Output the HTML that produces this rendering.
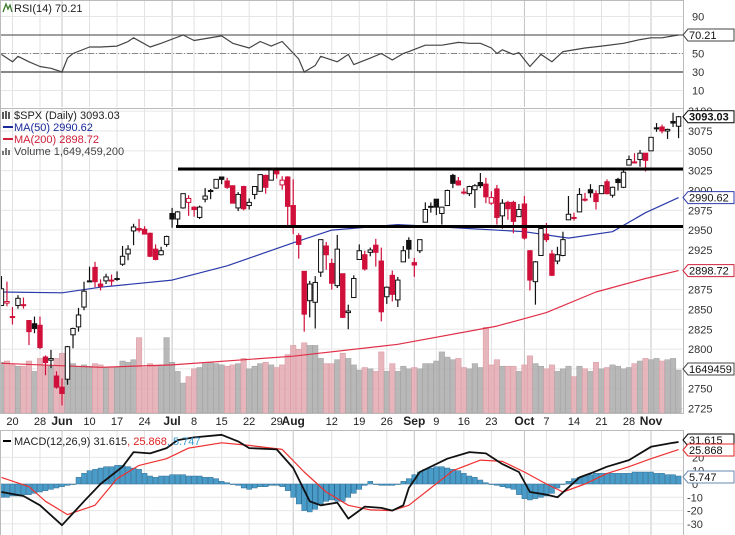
<!DOCTYPE html>
<html><head><meta charset="utf-8">
<style>
body{margin:0;background:#fff;}
svg{display:block;font-family:"Liberation Sans",Arial,sans-serif;}
</style></head>
<body>
<svg id="chart" width="735" height="535" viewBox="0 0 735 535" xmlns="http://www.w3.org/2000/svg">
<rect x="0" y="0" width="735" height="535" fill="#fff"/>
<g id="grid"></g>
<g id="vol"></g>
<g id="lines"></g>
<g id="candles"></g>
<g id="macd"></g>
<g id="rsi"></g>
<g id="axis"></g>
<g id="support">
  <line x1="178" y1="169" x2="683" y2="169" stroke="#000" stroke-width="3"/>
  <line x1="176" y1="226.5" x2="683" y2="226.5" stroke="#000" stroke-width="3"/>
</g>
<g font-size="11">
  <text x="14" y="12" fill="#222">RSI(14) 70.21</text>
  <path d="M3 12 L6 4 L8 9 L10 5 L12 12" stroke="#3a7a2a" fill="none" stroke-width="1.3"/>
  <text x="14" y="119" fill="#222">$SPX (Daily) 3093.03</text>
  <path d="M3 112 v7 M6 111 v8 M9 112 v7" stroke="#222" stroke-width="1.5"/>
  <line x1="3" y1="127" x2="13" y2="127" stroke="#1a2a9a" stroke-width="2"/>
  <text x="14" y="131" fill="#1a2a9a">MA(50) 2990.62</text>
  <line x1="3" y1="139" x2="13" y2="139" stroke="#d0203a" stroke-width="2"/>
  <text x="14" y="143" fill="#d0203a">MA(200) 2898.72</text>
  <path d="M3 155 v-4 M6 155 v-7 M9 155 v-5" stroke="#777" stroke-width="2"/>
  <text x="14" y="155" fill="#444">Volume 1,649,459,200</text>
  <line x1="3" y1="441" x2="11" y2="441" stroke="#000" stroke-width="2"/>
  <text x="14" y="445" fill="#222">MACD(12,26,9) 31.615<tspan fill="#e02020">, 25.868</tspan><tspan fill="#3a9ad0">, 5.747</tspan></text>
</g>
</svg>
<script>
const barIdx0 = -11;
const opens = [2855,2858,2841,2855,2856,2836,2832,2830,2790,2786,2766,2752,2762,2818,2828,2853,2885,2903,2882,2886,2886,2889,2907,2920,2949,2952,2951,2946,2926,2919,2932,2971,2964,2978,2985,2979,2966,2989,2999,3003,3017,3012,3006,2978,3005,2981,2995,2999,3019,3013,3025,3007,3017,2981,2943,2898,2861,2859,2897,2930,2908,2880,2895,2846,2865,2913,2919,2922,2931,2911,2866,2893,2862,2910,2937,2909,2924,2960,2980,2989,2971,2981,3019,3012,2997,2996,3001,3010,3008,2984,3002,2968,2985,2985,2967,2983,2924,2885,2918,2945,2920,2911,2918,2963,2966,2973,2989,3001,2996,2996,3011,2994,3014,3004,3032,3036,3039,3047,3050,3079,3080,3075,3087,3081];
const highs = [2892,2885,2853,2868,2865,2836,2841,2841,2792,2799,2772,2763,2804,2827,2852,2885,2904,2910,2888,2895,2894,2898,2930,2931,2958,2964,2955,2947,2932,2929,2943,2978,2974,2995,2994,2980,2981,3003,3002,3014,3017,3016,3006,2998,3006,2990,3005,3020,3020,3028,3026,3018,3018,3014,2946,2898,2886,2892,2938,2935,2914,2944,2895,2856,2893,2932,2924,2928,2939,2928,2879,2899,2891,2930,2941,2915,2938,2985,2985,2989,2979,3001,3021,3017,3003,3006,3008,3022,3016,2999,3007,2989,2987,2987,2983,2993,2925,2911,2953,2959,2925,2929,2948,2993,2972,3003,2997,3008,3000,3007,3014,3005,3016,3028,3044,3047,3051,3047,3067,3085,3083,3078,3098,3094];
const lows = [2855,2854,2831,2851,2851,2805,2820,2800,2767,2776,2750,2729,2755,2801,2822,2849,2885,2878,2874,2882,2880,2886,2905,2912,2931,2947,2945,2916,2912,2918,2929,2953,2955,2977,2968,2967,2964,2985,2989,3002,3008,3002,2984,2974,2975,2976,2989,2999,2996,3013,3015,3001,2954,2945,2914,2822,2840,2826,2891,2900,2875,2877,2839,2825,2865,2913,2899,2917,2904,2835,2857,2860,2853,2910,2914,2891,2921,2960,2972,2969,2957,2981,3003,3006,2995,2993,2978,3003,2984,2982,2957,2952,2963,2946,2967,2938,2874,2856,2918,2935,2892,2907,2917,2963,2962,2973,2986,2991,2976,2996,2995,2991,3000,3003,3032,3034,3030,3024,3050,3074,3072,3065,3080,3066];
const closes = [2876,2860,2840,2864,2856,2822,2826,2802,2783,2788,2752,2744,2803,2826,2843,2873,2886,2885,2879,2891,2887,2889,2917,2926,2954,2950,2945,2917,2913,2924,2942,2964,2973,2996,2990,2976,2979,2993,3000,3014,3014,3004,2984,2995,2977,2985,3005,3020,3004,3026,3021,3013,2980,2954,2932,2844,2882,2884,2938,2919,2883,2926,2840,2848,2889,2924,2901,2925,2922,2847,2878,2869,2887,2924,2926,2906,2938,2976,2979,2979,2979,3000,3009,3007,2998,3005,3006,3006,2992,2991,2966,2984,2977,2961,2976,2940,2887,2910,2952,2938,2893,2919,2938,2970,2966,2995,2989,2997,2986,3006,2996,3004,3010,3023,3039,3036,3047,3038,3067,3078,3075,3077,3085,3093];
const volumesB = [1.95,2.0,1.85,1.8,1.8,2.0,1.6,2.1,1.85,1.8,2.1,
2.3,2.0,1.9,1.8,1.85,1.8,1.9,1.85,1.75,1.75,
1.75,2.0,1.95,2.05,2.9,1.75,1.9,1.8,1.85,2.9,
1.95,1.6,1.15,1.4,1.7,1.75,1.9,1.95,1.9,1.85,
1.8,1.85,1.9,2.1,1.7,1.8,1.9,1.95,1.85,1.75,
1.85,2.25,2.6,2.45,2.7,2.6,2.6,2.1,1.9,1.9,
2.05,2.3,2.1,1.85,1.65,1.75,1.7,1.6,2.35,1.6,
1.9,1.6,1.8,1.7,1.75,1.7,1.9,1.9,2.0,2.35,
2.15,2.05,2.1,1.75,1.7,1.9,1.75,3.3,1.85,2.05,
1.8,1.8,1.8,1.6,1.85,2.2,1.9,1.8,1.7,1.85,
1.6,1.7,1.8,1.4,1.8,1.7,1.6,1.95,1.7,1.75,
1.85,1.8,1.7,1.75,1.9,2.0,2.1,2.05,2.1,2.0,
2.05,2.1,1.65];
const ma50Idx = [-11,0,7,20,30,42,49,61,69,84,92,100,106,112];
const ma50Val = [2872,2871,2878,2887,2905,2934,2950,2957,2954,2948,2940,2948,2972,2991];
const ma200Idx = [-11,7,20,42,61,79,88,97,106,112];
const ma200Val = [2782,2777,2780,2791,2806,2829,2846,2872,2889,2899];
const rsiIdx = [-11,-9,-8,-6,-4,-2,0,1,2,5,7,10,12,13,16,18,22,24,29,31,34,36,38,40,43,44,46,47,50,52,53,56,58,60,62,63,66,69,72,74,76,78,79,80,82,83,85,87,89,91,95,98,102,105,107,109,111,112];
const rsiVal = [49,41,47,41,36,34,30,45,50,57,57,58,63,67,57,61,70,64,69,61,56,63,58,63,44,30,37,47,41,49,38,45,50,43,50,52,59,59,62,61,61,56,50,54,49,51,36,49,41,52,56,58,61,65,67,67,69,70];
const macdIdx = [-11,-7,-4,0,4,7,11,13,16,19,21,24,29,32,34,39,42,45,47,50,52,55,58,60,62,63,65,70,74,77,80,83,85,88,90,94,96,99,103,107,111,112];
const macdVal = [-6,-9,-16,-31,-13,0,13,24,23,27,33,35,37,32,27,26,12,-13,-16,-14,-26,-17,-18,-20,-16,-3,9,19,24,23,15,9,-6,-8,-10,5,8,13,18,28,31,31.6];
const signalIdx = [-11,-6,-3,1,6,10,14,19,23,29,34,40,44,48,52,56,60,63,67,71,76,80,84,88,91,95,99,103,107,112];
const signalVal = [5,-2,-13,-23,-16,4,14,19,27,31,29,26,9,-6,-16,-19.5,-20,-16,-3,10,18,17,9,0,-6,0,8,13,19,25.9];
const histVal = [-10,-10,-9,-9,-8,-8,-7,-6,-5,-4,-3,
-2,-1,0,5,8,10,11,12,13,13,
14,14,13,12,11,8,6,5,6,6,
7,7,7,6,6,6,5,5,4,2,1,0,
-1,-3,-4,-3,-2,-2,-1,-1,-2,-5,
-10,-15,-20,-21,-19,-15,-13,-12,-13,-13,
-10,-7,-4,-1,2,0,-1,-1,-1,0,
2,4,7,9,11,12,13,13,12,11,
10,8,6,5,3,1,0,-1,-2,-3,
-4,-8,-11,-12,-11,-10,-9,-7,-3,0,
2,4,5,6,7,8,8,8,8,8,
8,8,9,9,9,9,8,8,7,7,6];
const dateLabels = ["20","28","Jun","10","17","24","Jul","8","15","22","29","Aug","12","19","26","Sep","9","16","23","Oct","7","14","21","28","Nov"];
const dateIdx = [-9,-4,0,5,10,15,20,24,29,34,39,42,49,54,59,64,68,73,78,84,88,93,98,103,107];
const priceTicks = [3100,3075,3050,3025,3000,2975,2950,2925,2900,2875,2850,2825,2800,2775,2750,2725];
const rsiTicks = [90,70,50,30,10];
const macdTicks = [20,10,0,-10,-20,-30];

const NS="http://www.w3.org/2000/svg";
const xOf = i => 62 + i*5.505;
const yP = p => 131 + (3075-p)*0.793;
const yR = v => 53.5 - (v-50)*0.925;
const yM = v => 484 - v*1.33;
const yV = b => 413 - b*26;
function mk(tag, parent, attrs){const e=document.createElementNS(NS,tag);for(const k in attrs)e.setAttribute(k,attrs[k]);parent.appendChild(e);return e;}
const G=id=>document.getElementById(id);
const grid=G('grid'), vol=G('vol'), lines=G('lines'), cand=G('candles'), macd=G('macd'), rsi=G('rsi'), axis=G('axis');

[[0,107],[108,413],[430,535]].forEach(([t,b])=>{
  dateIdx.forEach((i,k)=>{
    const l=mk('line',grid,{x1:xOf(i),x2:xOf(i),y1:t,y2:b,stroke:/[A-Z]/.test(dateLabels[k])?'#c4c4c4':'#e2e2e2','stroke-width':1});
    
    
  });
});
priceTicks.forEach(p=>{const l=mk('line',grid,{x1:0,x2:683,y1:yP(p),y2:yP(p),stroke:'#e6e6e6'});

});
rsiTicks.forEach(v=>{const l=mk('line',grid,{x1:0,x2:683,y1:yR(v),y2:yR(v),stroke:'#e6e6e6'});

});
macdTicks.forEach(v=>{const l=mk('line',grid,{x1:0,x2:683,y1:yM(v),y2:yM(v),stroke:'#e6e6e6'});

});
[[0,0,683,108],[0,108,683,305],[0,430,683,105]].forEach(([x,y,w,h])=>{const r=mk('rect',axis,{x:x+0.5,y:y+0.5,width:w,height:h,fill:'none',stroke:'#bbb'});

});

volumesB.forEach((b,k)=>{
  const i=barIdx0+k; const down = k>0 && closes[k]<closes[k-1];
  const r=mk('rect',vol,{x:xOf(i)-2.75,y:yV(b),width:5.5,height:413-yV(b),fill:down?'#e3a8b0':'#ababab','fill-opacity':0.85,stroke:down?'#d99aa3':'#a0a0a0','stroke-width':0.5});
  
  
});

function poly(parent, idx, vals, yf, color, w, name){
  const pts=idx.map((i,k)=>xOf(i).toFixed(1)+','+yf(vals[k]).toFixed(1)).join(' ');
  const p=mk('polyline',parent,{points:pts,fill:'none',stroke:color,'stroke-width':w,'stroke-linejoin':'round'});
  
  
}
poly(lines,ma200Idx,ma200Val,yP,'#e03048',1.2,'ma200-line');
poly(lines,ma50Idx,ma50Val,yP,'#2a3aaa',1.2,'ma50-line');

closes.forEach((c,k)=>{
  const i=barIdx0+k, x=xOf(i), o=opens[k];
  const down = k>0 && c<closes[k-1];
  const col = down?'#d0103a':'#111';
  const w=mk('line',cand,{x1:x,x2:x,y1:yP(highs[k]),y2:yP(lows[k]),stroke:col,'stroke-width':1.2});
  
  
  const top=yP(Math.max(o,c)), bot=yP(Math.min(o,c));
  const r=mk('rect',cand,{x:x-2.2,y:top,width:4.4,height:Math.max(1,bot-top),fill:c>=o?'#fff':col,stroke:col,'stroke-width':1});
  
  
});

[[70,'#666',1.3,''],[30,'#888',2,''],[50,'#888',1,'6,2,1,2']].forEach(([v,c,w,d])=>{
  const l=mk('line',rsi,{x1:0,x2:683,y1:yR(v),y2:yR(v),stroke:c,'stroke-width':w,'stroke-dasharray':d});
  
  
});
poly(rsi,rsiIdx,rsiVal,yR,'#444',1.2,'rsi-line');

histVal.forEach((v,k)=>{
  const i=barIdx0+k, y0=yM(0), y1=yM(v);
  const r=mk('rect',macd,{x:xOf(i)-2.5,y:Math.min(y0,y1),width:5,height:Math.max(0.5,Math.abs(y1-y0)),fill:'#4a9cc8',stroke:'#2a6a94','stroke-width':0.5});
  
  
});
poly(macd,signalIdx,signalVal,yM,'#f03030',1.2,'macd-signal-line');
poly(macd,macdIdx,macdVal,yM,'#111',1.8,'macd-line');

function txt(parent,x,y,s,attrs,name){const t=mk('text',parent,Object.assign({x:x,y:y,'font-size':11,fill:'#333'},attrs||{}));t.textContent=s;

return t;}
dateLabels.forEach((s,k)=>{const bold=/[A-Z]/.test(s);txt(axis,xOf(dateIdx[k]),425,s,{'text-anchor':'middle','font-weight':bold?'bold':'normal','font-size':bold?12:11,fill:'#222'},'date-label');});
priceTicks.forEach(p=>txt(axis,688,yP(p)+4,String(p),{},'price-tick-label'));
rsiTicks.forEach(v=>{if(v!==70)txt(axis,692,yR(v)+4,String(v),{},'rsi-tick-label');});
macdTicks.forEach(v=>txt(axis,v<0?687:692,yM(v)+4,String(v),{},'macd-tick-label'));
function tag(y,s,color,name){
  const g=mk('g',axis,{});
  
  
  mk('path',g,{d:`M683 ${y} L688 ${y-6} H734 V${y+6} H688 Z`,fill:'#fff',stroke:color,'stroke-width':1});
  const t=mk('text',g,{x:689,y:y+4,'font-size':11,fill:'#111','font-weight':name==='last-price-tag'?'bold':'normal'});t.textContent=s;
}
tag(35,'70.21','#444','rsi-value-tag');
tag(yP(3093),'3093.03','#000','last-price-tag');
tag(yP(2991),'2990.62','#2a3aaa','ma50-value-tag');
tag(yP(2899),'2898.72','#d0203a','ma200-value-tag');
tag(369,'1649459','#444','volume-value-tag');
tag(440,'31.615','#000','macd-value-tag');
tag(450,'25.868','#e02020','signal-value-tag');
tag(477,'5.747','#6a8ab0','histogram-value-tag');
</script>
</body></html>
